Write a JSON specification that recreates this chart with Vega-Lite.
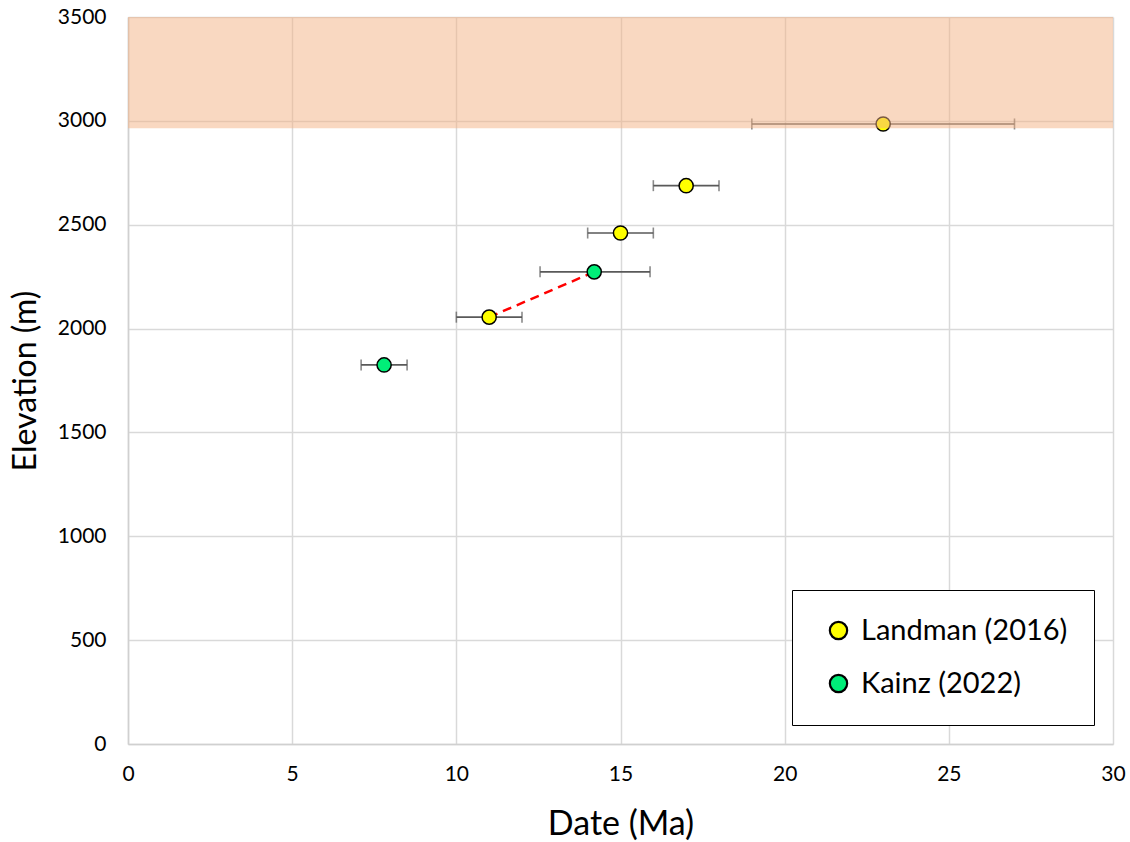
{
  "$schema": "https://vega.github.io/schema/vega-lite/v6.json",
  "width": 985,
  "height": 727,
  "autosize": "none",
  "padding": {"left": 128, "top": 17, "right": 17, "bottom": 98},
  "background": "white",
  "config": {
    "font": "Lato",
    "view": {"stroke": null},
    "axis": {
      "gridColor": "#d9d9d9",
      "gridWidth": 1.5,
      "domainColor": "#d0d0d0",
      "domainWidth": 1.5,
      "ticks": false,
      "labelFont": "Lato",
      "labelFontSize": 21,
      "labelColor": "#000000",
      "labelFlush": false,
      "format": "d",
      "titleFont": "Lato",
      "titleFontWeight": "normal",
      "titleColor": "#000000"
    }
  },
  "datasets": {
    "pts": [
      {"date": 11, "elev": 2055, "lo": 10, "hi": 12, "source": "Landman (2016)"},
      {"date": 15, "elev": 2460, "lo": 14, "hi": 16, "source": "Landman (2016)"},
      {"date": 17, "elev": 2688, "lo": 16, "hi": 18, "source": "Landman (2016)"},
      {"date": 23, "elev": 2985, "lo": 19, "hi": 27, "source": "Landman (2016)"},
      {"date": 7.8, "elev": 1825, "lo": 7.1, "hi": 8.5, "source": "Kainz (2022)"},
      {"date": 14.2, "elev": 2273, "lo": 12.55, "hi": 15.9, "source": "Kainz (2022)"}
    ],
    "link": [
      {"date": 11, "elev": 2055},
      {"date": 14.2, "elev": 2273}
    ],
    "band": [
      {"x1": 0, "x2": 30, "y1": 2965, "y2": 3500}
    ]
  },
  "layer": [
    {
      "data": {"name": "pts"},
      "mark": {"type": "rule", "color": "#595959", "strokeWidth": 1.6},
      "encoding": {
        "x": {"field": "lo", "type": "quantitative", "scale": {"domain": [0, 30], "nice": false},
              "axis": {"values": [0, 5, 10, 15, 20, 25, 30], "title": "Date (Ma)", "labelPadding": 19, "titlePadding": 23, "titleFontSize": 34}},
        "x2": {"field": "hi"},
        "y": {"field": "elev", "type": "quantitative", "scale": {"domain": [0, 3500], "nice": false},
              "axis": {"values": [0, 500, 1000, 1500, 2000, 2500, 3000, 3500], "title": "Elevation (m)", "labelPadding": 22, "titlePadding": 15, "titleFontSize": 32}}
      }
    },
    {
      "data": {"name": "pts"},
      "mark": {"type": "tick", "orient": "vertical", "color": "#595959", "thickness": 1.6, "size": 11},
      "encoding": {
        "x": {"field": "lo", "type": "quantitative"},
        "y": {"field": "elev", "type": "quantitative"}
      }
    },
    {
      "data": {"name": "pts"},
      "mark": {"type": "tick", "orient": "vertical", "color": "#595959", "thickness": 1.6, "size": 11},
      "encoding": {
        "x": {"field": "hi", "type": "quantitative"},
        "y": {"field": "elev", "type": "quantitative"}
      }
    },
    {
      "data": {"name": "link"},
      "mark": {"type": "line", "color": "#ff0000", "strokeWidth": 2.5, "strokeDash": [9, 6]},
      "encoding": {
        "x": {"field": "date", "type": "quantitative"},
        "y": {"field": "elev", "type": "quantitative"}
      }
    },
    {
      "data": {"name": "pts"},
      "mark": {"type": "point", "shape": "circle", "filled": true, "opacity": 1, "stroke": "#000000", "strokeWidth": 1.5, "size": 200},
      "encoding": {
        "x": {"field": "date", "type": "quantitative"},
        "y": {"field": "elev", "type": "quantitative"},
        "fill": {
          "field": "source", "type": "nominal",
          "scale": {"domain": ["Landman (2016)", "Kainz (2022)"], "range": ["#ffff00", "#00ee78"]},
          "legend": {
            "title": null,
            "orient": "bottom-right",
            "offset": 19,
            "fillColor": "#ffffff",
            "strokeColor": "#000000",
            "padding": 26,
            "rowPadding": 23,
            "symbolType": "circle",
            "symbolSize": 300,
            "symbolOffset": 6,
            "symbolStrokeColor": "#000000",
            "symbolStrokeWidth": 2.2,
            "symbolOpacity": 1,
            "labelFont": "Lato",
            "labelFontSize": 29,
            "labelColor": "#000000",
            "labelOffset": 8,
            "labelLimit": 400
          }
        }
      }
    },
    {
      "data": {"name": "band"},
      "mark": {"type": "rect", "color": "#f4b183", "opacity": 0.5},
      "encoding": {
        "x": {"field": "x1", "type": "quantitative"},
        "x2": {"field": "x2"},
        "y": {"field": "y1", "type": "quantitative"},
        "y2": {"field": "y2"}
      }
    },
    {
      "mark": {"type": "rule", "color": "#000000", "strokeWidth": 1.5},
      "encoding": {"y": {"datum": 3500, "type": "quantitative"}}
    },
    {
      "mark": {"type": "rule", "color": "#000000", "strokeWidth": 1.5},
      "encoding": {"x": {"datum": 30, "type": "quantitative"}}
    }
  ]
}
